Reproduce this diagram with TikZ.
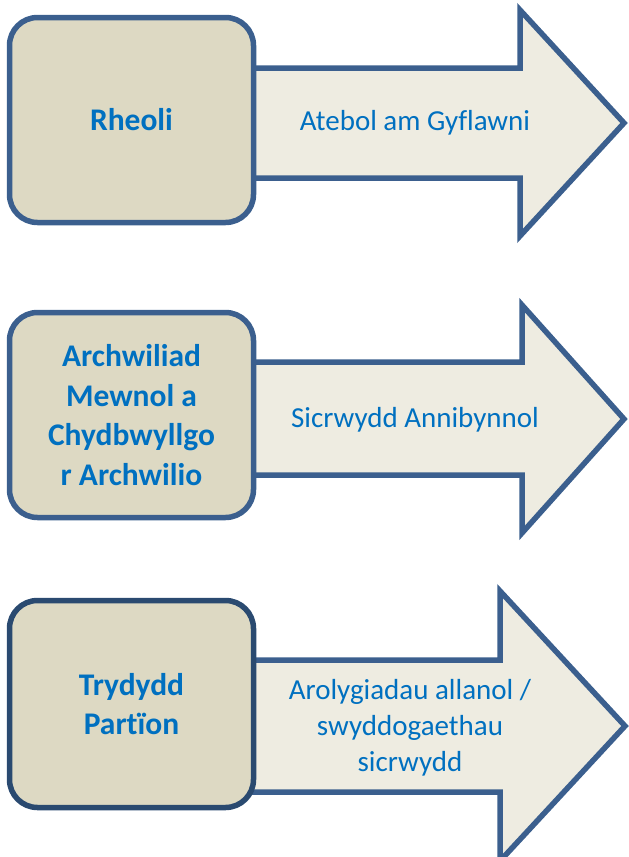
\documentclass[tikz,border=0pt]{standalone}
\usepackage{fontspec}
\setmainfont{Carlito}[Ligatures=NoCommon]
\usepackage{xcolor}
\definecolor{boxfill}{HTML}{DDD9C3}
\definecolor{arrowfill}{HTML}{EEECE1}
\definecolor{edgeblue}{HTML}{3B5F8E}
\definecolor{edgedark}{HTML}{2A4A70}
\definecolor{textblue}{HTML}{0070C0}

\begin{document}
\begin{tikzpicture}[
		x=1pt, y=-1pt,
		box/.style={draw=edgeblue, fill=boxfill, line width=5.5pt, rounded corners=28pt,
				minimum width=244pt, minimum height=205pt, inner sep=0pt, align=center,
				text=textblue, font=\fontsize{31.5}{39.5}\selectfont\bfseries},
		bigarrow/.style={draw=edgeblue, fill=arrowfill, line width=5.5pt, line join=miter},
		arrowtext/.style={inner sep=0pt, align=center, text=textblue,
				font=\fontsize{29}{36}\selectfont}
	]

	\useasboundingbox (0,0) rectangle (629,857);
	\clip (0,0) rectangle (629,857);

	% row 1
	\draw[bigarrow] (200,68) -- (520,68) -- (520,10) -- (624,123) -- (520,236) -- (520,178) -- (200,178) -- cycle;
	\node[box] (rheoli) at (131.5,120) {Rheoli};
	\node[arrowtext] (atebol) at (415,123) {Atebol am Gyflawni};

	% row 2
	\draw[bigarrow] (200,362) -- (522,362) -- (522,305) -- (624,419) -- (522,533) -- (522,475) -- (200,475) -- cycle;
	\node[box] (archwilio) at (131.5,415) {Archwiliad\\Mewnol a\\Chydbwyllgo\\r Archwilio};
	\node[arrowtext] (sicrwydd) at (415,420) {Sicrwydd Annibynnol};

	% row 3
	\draw[bigarrow] (200,660) -- (500,660) -- (500,591) -- (625,726) -- (500,861) -- (500,792) -- (200,792) -- cycle;
	\node[box, draw=edgedark, minimum height=207pt] (trydydd) at (131.5,704) {Trydydd\\Partïon};
	\node[arrowtext] (arolygiadau) at (410,728) {Arolygiadau allanol /\\swyddogaethau\\sicrwydd};

\end{tikzpicture}
\end{document}
